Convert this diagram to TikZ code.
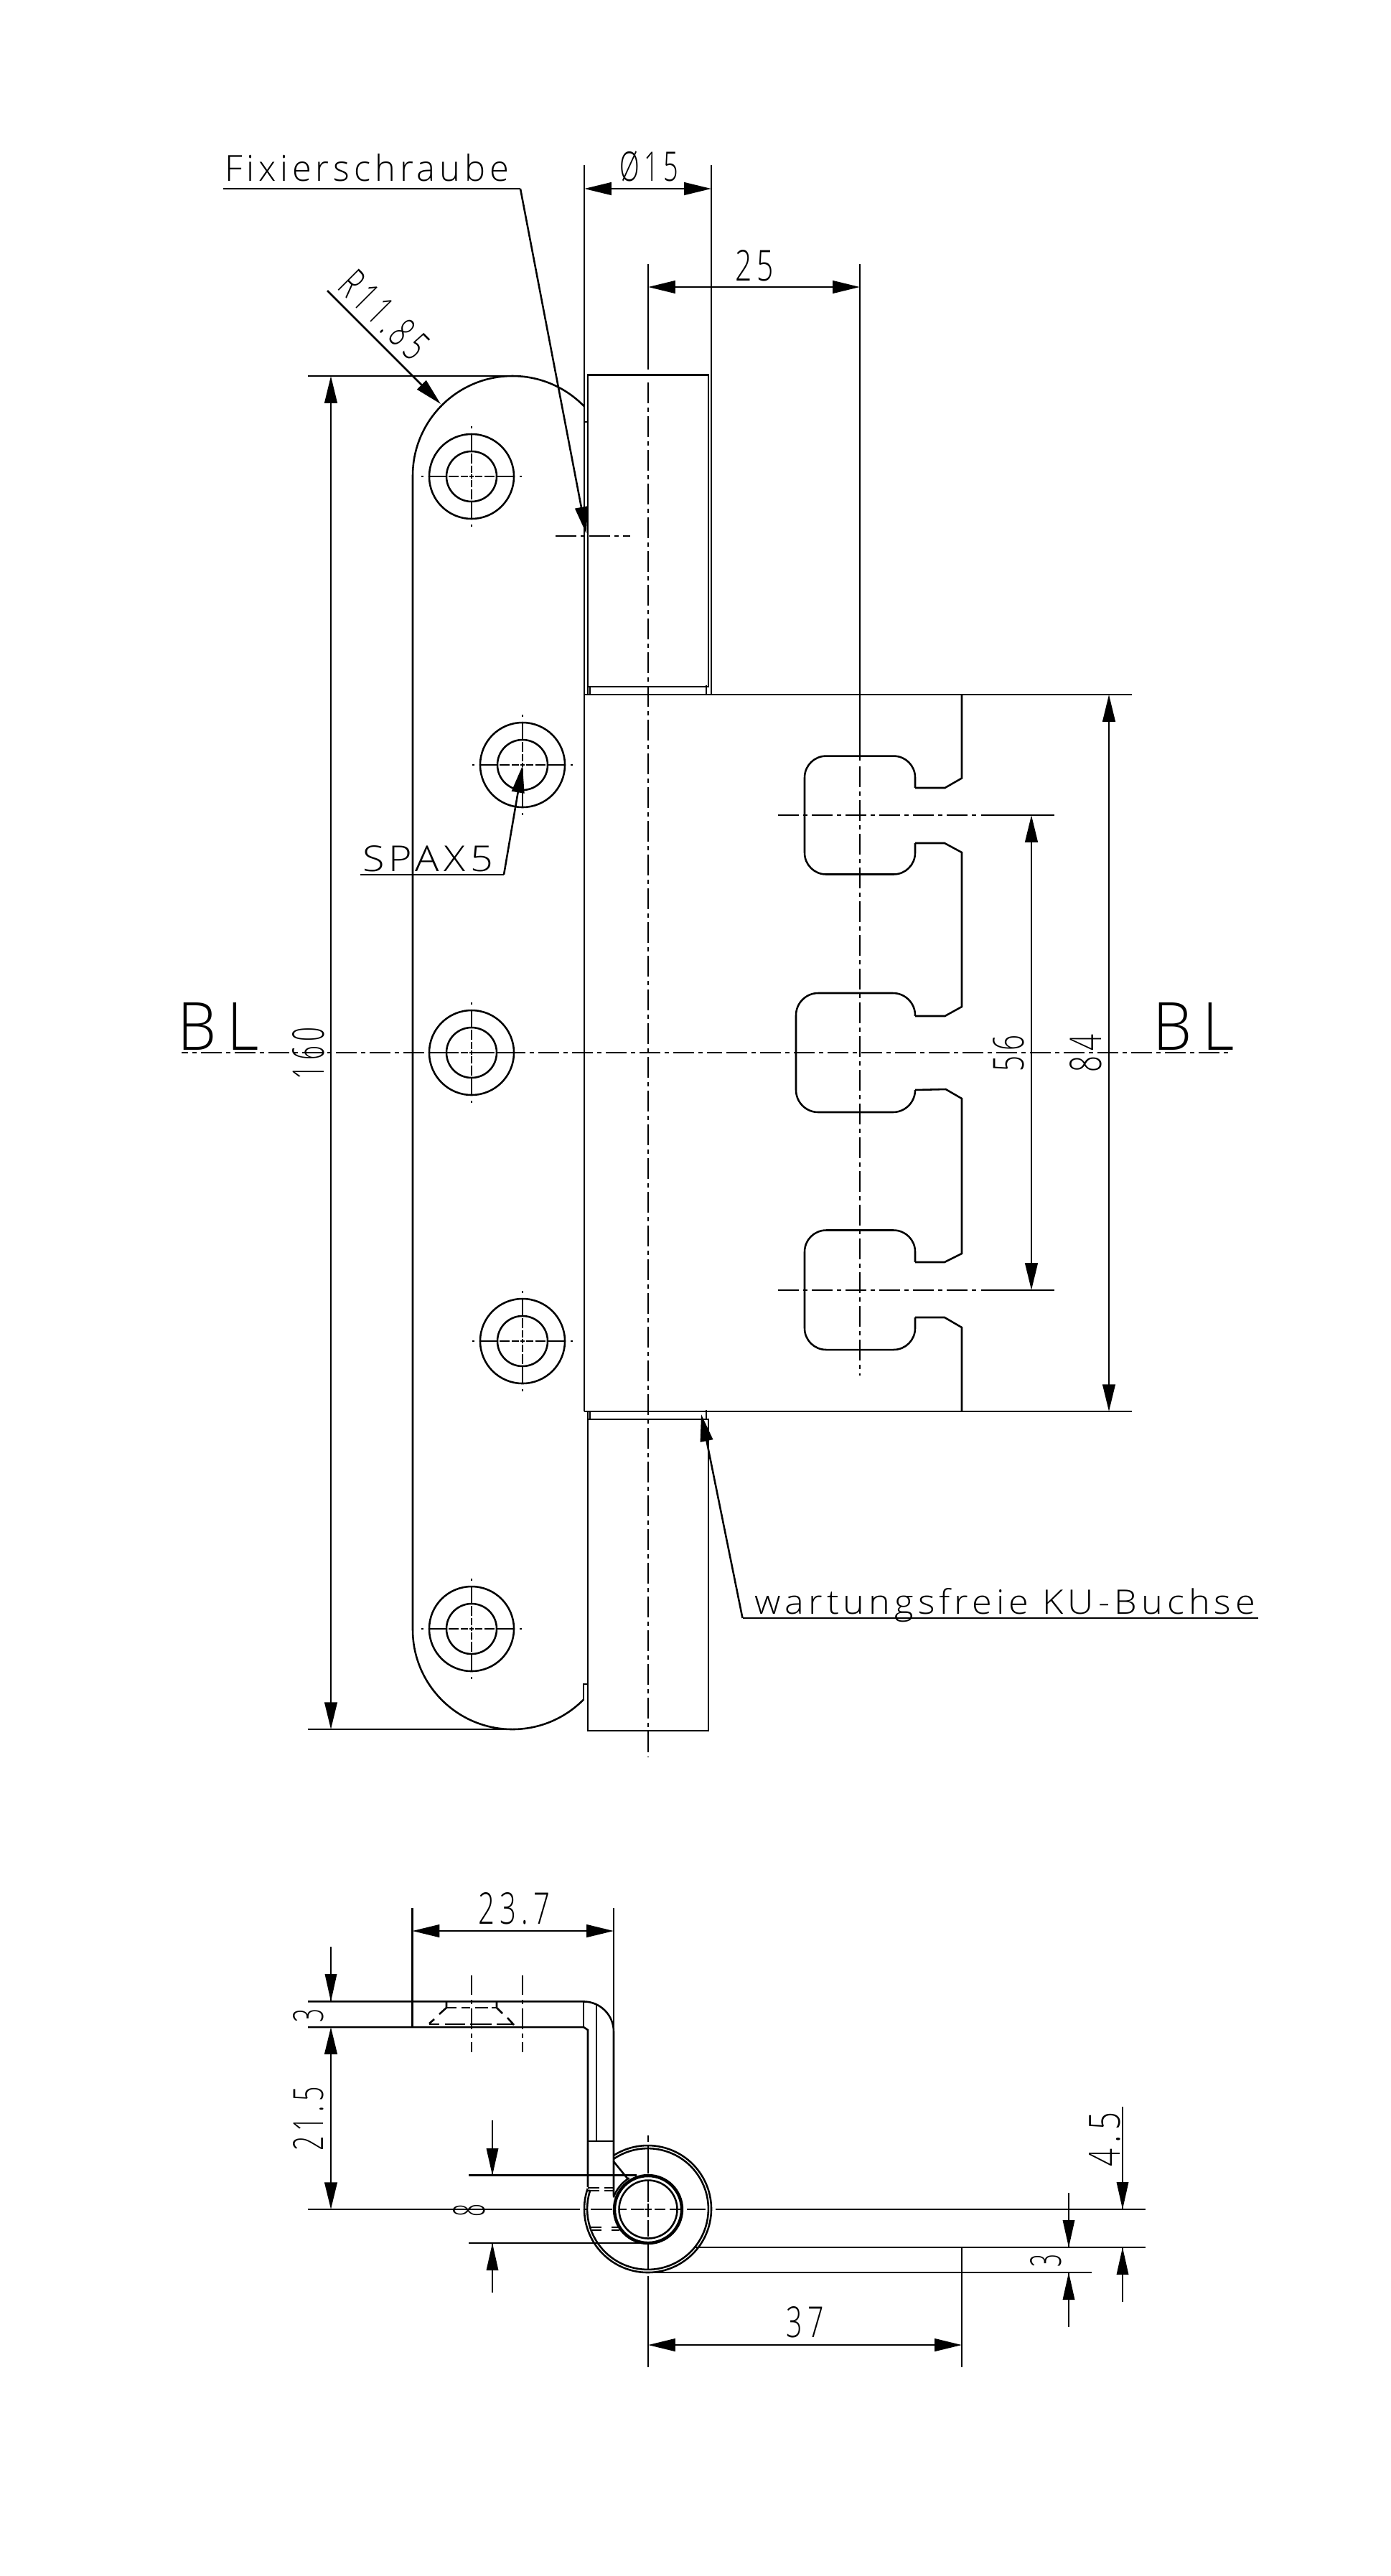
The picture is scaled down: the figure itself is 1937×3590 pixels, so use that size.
\documentclass[tikz,border=0pt]{standalone}
\usepackage{fontspec}
\usepackage{graphicx}
\usetikzlibrary{arrows.meta}
\setmainfont{Open Sans}
\newfontfamily\iso{Open Sans Light}[LetterSpace=18]
\newfontfamily\isotext{Open Sans Light}[LetterSpace=12]
\newdimen\px \px=0.02cm
\newcommand\fit[3]{\resizebox{#1\px}{#2\px}{#3}}
\newcommand\vtip[3]{\fill[line width=0pt] (#1,#2) -- (#1-8.5,#3) -- (#1+8.5,#3) -- cycle;}
\newcommand\hole[2]{%
  \begin{scope}[shift={(#1,#2)}]
    \draw (0,0) circle[radius=59] (0,0) circle[radius=35];
    \foreach \s in {1,-1}{
      \draw (\s*35,0)--(\s*59,0) (\s*18,0)--(\s*32,0) (\s*5,0)--(\s*15,0) (\s*67,0)--(\s*70,0);
      \draw (0,\s*35)--(0,\s*59) (0,\s*18)--(0,\s*32) (0,\s*5)--(0,\s*15) (0,\s*67)--(0,\s*70);
    }
    \draw (-3,0)--(3,0) (0,-3)--(0,3);
  \end{scope}}
\tikzset{
  every path/.style={line width=1.45pt,black},
  axisline/.style={dash pattern=on 16.44pt off 3.4pt on 3.4pt off 3.51pt},
  tip/.style={-{Triangle[length=21.5pt,width=10pt]}},
  tips/.style={{Triangle[length=21.5pt,width=10pt]}-{Triangle[length=21.5pt,width=10pt]}},
  txt/.style={inner sep=0pt,outer sep=0pt,anchor=base west},
  rtxt/.style={inner sep=0pt,outer sep=0pt,anchor=center,rotate=90}
}
\begin{document}
\begin{tikzpicture}[x=0.02cm,y=-0.02cm]
\useasboundingbox (0,0) rectangle (1937,3590);
% ---------- front view: leaf outline
\draw (575,2271) -- (575,663) arc[start angle=180,end angle=316,radius=139];
\draw (575,2271) arc[start angle=180,end angle=44.4,radius=139];
\draw (429,524) -- (714,524);
\draw (429,2410) -- (714,2410);
\draw (819,588) -- (814,588);
\draw (813,2369) -- (813,2347) -- (819,2347);
% holes
\hole{657}{664}
\hole{728}{1066}
\hole{657}{1467}
\hole{728}{1869}
\hole{657}{2270}
% cylinders
\draw (819,968) -- (819,522.6) -- (987,522.6) -- (987,957) -- (819,957);
\draw (822,957) -- (822,968) (984,955) -- (984,968);
\draw (819,1967) -- (819,2412) -- (987,2412) -- (987,1978) -- (819,1978);
\draw (822,1967) -- (822,1978) (984,1965) -- (984,1978);
% main plate
\draw (814,230) -- (814,1967);
\draw (991,230) -- (991,968);
\draw (814,968) -- (1577,968);
\draw (814,1967) -- (1577,1967);
\draw (1340,968) -- (1340,1084.5) -- (1316.5,1098) -- (1275,1098);
\draw (1275,1175) -- (1316,1175) -- (1340,1188) -- (1340,1403) -- (1316.5,1416) -- (1275,1416);
\draw (1275,1519) -- (1317.6,1518) -- (1340,1531) -- (1340,1747) -- (1316,1759) -- (1275,1759);
\draw (1275,1836) -- (1316,1836) -- (1340,1850) -- (1340,1967);
\draw[rounded corners=0.6cm] (1275,1098) -- (1275,1053.6) -- (1121,1053.6) -- (1121,1218.5) -- (1275,1218.5) -- (1275,1175);
\draw[rounded corners=0.62cm] (1275,1416) -- (1275,1384) -- (1109,1384) -- (1109,1550) -- (1275,1550) -- (1275,1519);
\draw[rounded corners=0.6cm] (1275,1759) -- (1275,1714.5) -- (1121,1714.5) -- (1121,1881) -- (1275,1881) -- (1275,1836);
% axes
\draw (903,368) -- (903,515);
\draw[axisline] (903,533) -- (903,2448);
\draw (1198,368) -- (1198,1060);
\draw[axisline] (1198,1068) -- (1198,1917);
\draw[axisline,dash phase=11.5pt] (253,1467) -- (1000,1467);
\draw[axisline,dash phase=19.3pt] (1712,1467) -- (1000,1467);
\draw[axisline] (1084,1136) -- (1362,1136);
\draw (1367,1136) -- (1469,1136);
\draw[axisline] (1084,1798) -- (1362,1798);
\draw (1367,1798) -- (1469,1798);
\draw[axisline] (774,747) -- (878,747);
% dimensions front
\draw (311,263) -- (725,263);
\draw[tip] (725,263) -- (817,744);
\draw[tips] (814,263) -- (991,263);
\draw[tips] (903,400) -- (1198,400);
\draw[tip] (456,405) -- (614,563);
\draw[tips] (461,524) -- (461,2410);
\draw[tips] (1437,1136) -- (1437,1798);
\draw[tips] (1545,968) -- (1545,1967);
\draw (502,1219) -- (702,1219);
\draw[tip] (702,1219) -- (728,1067);
\draw (1753,2255) -- (1034.5,2255);
\draw[tip] (1034.5,2255) -- (977,1971);
% labels front
\node[txt] (lfix) at (313,252) {\fit{396}{38}{\isotext Fixierschraube}};
\node[txt] (ld15) at (863,252) {\fit{82}{42}{\iso Ø15}};
\node[txt] (l25) at (1024,391) {\fit{54}{43}{\iso 25}};
\node[inner sep=0pt,anchor=center,rotate=-45] (lr) at (535.5,438.5) {\fit{147}{42}{\iso R11.85}};
\node[txt] (lbl1) at (247,1463) {\fit{114}{66}{\iso BL}};
\node[txt] (lbl2) at (1606,1463) {\fit{114}{66}{\iso BL}};
\node[rtxt] (l160) at (430,1468) {\fit{72}{44}{\iso 160}};
\node[rtxt] (l56) at (1405.5,1468) {\fit{51}{43}{\iso 56}};
\node[rtxt] (l84) at (1513,1468) {\fit{53}{44}{\iso 84}};
\node[txt] (lspax) at (505,1214) {\fit{182}{36}{\isotext SPAX5}};
\node[txt] (lku) at (1051,2249) {\fit{698}{36}{\isotext wartungsfreie KU-Buchse}};
% ---------- section view
\draw (429,2789.4) -- (813,2789.4) arc[start angle=-90,end angle=0,radius=42] -- (855,3060);
\draw (429,2825) -- (813,2825) -- (819,2829) -- (819,3048);
\draw (813,2789.4) -- (813,2825);
\draw (831,2793) -- (831,2984);
\draw (819,2984) -- (855,2984);
% hidden countersink
\draw (622,2789) -- (622,2797) (622,2798) -- (612,2807) (598,2820) -- (605,2814);
\draw (692,2789) -- (692,2797) (692,2798) -- (700,2806) (707,2812) -- (716,2822);
\draw (598,2821) -- (612,2821) (620,2821) -- (648,2821) (655,2821) -- (685,2821) (692,2821) -- (716,2821);
\draw (622,2798) -- (636,2798) (643,2798) -- (655,2798) (662,2798) -- (680,2798) (685,2798) -- (692,2798);
% hole centre lines in section
\foreach \x in {657,728}{
  \draw (\x,2753) -- (\x,2780) (\x,2787) -- (\x,2793) (\x,2799) -- (\x,2828) (\x,2834) -- (\x,2840) (\x,2846) -- (\x,2860);
}
% eye
\draw (854.7,3012) -- (875,3037);
\draw (902.5,3078.5) ++(-122.7:88.5) arc[start angle=-122.7,end angle=198.8,radius=88.5];
\draw (902.5,3078.5) ++(-124.5:84.4) arc[start angle=-124.5,end angle=198.4,radius=84.4];
\draw[line width=2.5pt] (903,3079) circle[radius=47];
\draw (903,3079) circle[radius=40.5];
\draw (903,3079) ++(199:51) arc[start angle=199,end angle=239,radius=51];
\draw (819,3049) -- (835,3049) (842,3049) -- (854,3049) (819,3053) -- (835,3053) (842,3053) -- (854,3053);
\draw (823,3104) -- (838,3104) (852,3104) -- (863,3104) (825,3108) -- (838,3108) (852,3108) -- (863,3108);
% centre lines of eye
\draw (429,3079) -- (808,3079) (815,3079) -- (818,3079) (823,3079) -- (853,3079) (863,3079) -- (873,3079) (879,3079) -- (897,3079) (898,3079) -- (908,3079) (912,3079) -- (927,3079) (933,3079) -- (952,3079) (957,3079) -- (983,3079) (997,3079) -- (1596,3079);
\draw (903,2976) -- (903,2985) (903,2990) -- (903,3029) (903,3038) -- (903,3069) (903,3071) -- (903,3090) (903,3094) -- (903,3117) (903,3126) -- (903,3163) (903,3172) -- (903,3299);
% plate
\draw (969,3132) -- (1596,3132);
\draw (891,3167) -- (1521,3167);
\draw (1340,3132) -- (1340,3299);
% extension lines
\draw (574.5,2659) -- (574.5,2825);
\draw (855,2659) -- (855,2831);
\draw (653,3031.7) -- (887,3031.7);
\draw (653,3126) -- (891,3126);
% dimensions section
\draw[tips] (574.5,2691) -- (855,2691);
\draw (461,2713) -- (461,2789.4);
\vtip{461}{2789.4}{2751}
\draw[tips] (461,2825) -- (461,3079);
\draw (686,2955) -- (686,3031.7);
\vtip{686}{3031.7}{2994}
\draw (686,3195) -- (686,3126);
\vtip{686}{3126}{3164}
\draw[tips] (903,3268) -- (1340,3268);
\draw (1489,3056) -- (1489,3132);
\vtip{1489}{3132}{3094}
\draw (1489,3243) -- (1489,3167);
\vtip{1489}{3167}{3205}
\draw (1564,2936) -- (1564,3079);
\vtip{1564}{3079}{3041}
\draw (1564,3208) -- (1564,3132);
\vtip{1564}{3132}{3170}
% labels section
\node[txt] (l237) at (666,2681) {\fit{100}{44}{\iso 23.7}};
\node[rtxt] (l3a) at (430,2808.5) {\fit{19}{42}{\iso 3}};
\node[rtxt] (l215) at (430,2953) {\fit{89}{42}{\iso 21.5}};
\node[rtxt] (l8) at (654,3080) {\fit{18}{44}{\iso 8}};
\node[txt] (l37) at (1095.5,3257) {\fit{52}{43}{\iso 37}};
\node[rtxt] (l3b) at (1457.7,3150) {\fit{18}{43}{\iso 3}};
\node[rtxt] (l45) at (1539.5,2981) {\fit{76}{43}{\iso 4.5}};
\end{tikzpicture}
\end{document}
